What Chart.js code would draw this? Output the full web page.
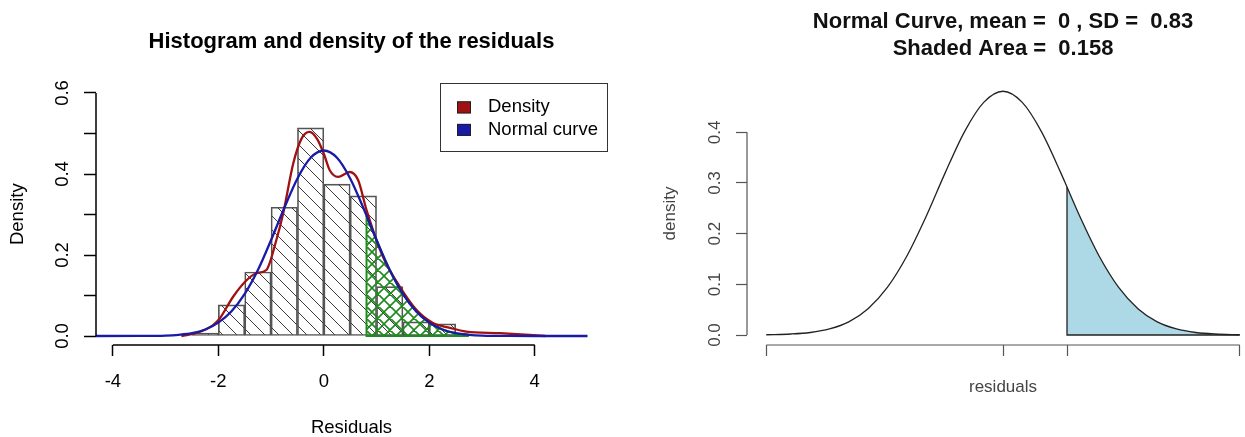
<!DOCTYPE html>
<html>
<head>
<meta charset="utf-8">
<script src="https://cdn.jsdelivr.net/npm/chart.js@4.4.1/dist/chart.umd.min.js"></script>
<style>
  html, body { margin: 0; padding: 0; background: #fff; width: 1245px; height: 437px; overflow: hidden; }
  canvas { position: absolute; top: 0; }
  #chartResiduals { left: 0; }
  #chartNormal { left: 625px; }
</style>
</head>
<body>
<canvas id="chartResiduals" width="620" height="437"></canvas>
<canvas id="chartNormal" width="640" height="437"></canvas>
<script>
/* Histograma de residuos */
const binMids = [-2.25, -1.75, -1.25, -0.75, -0.25, 0.25, 0.75, 1.25, 1.75, 2.25];
const binHeights = [0.007, 0.077, 0.158, 0.318, 0.514, 0.375, 0.346, 0.122, 0.035, 0.030];

/* Densidad (kernel) */
const densX = [-2.7, -2.4, -2.1, -1.97, -1.72, -1.47, -1.28, -1.09, -0.9, -0.77, -0.58, -0.42, -0.27, -0.12, 0.0, 0.11, 0.27, 0.49, 0.65, 0.81, 1.12, 1.44, 1.76, 2.07, 2.39, 2.7, 3.34, 3.97, 4.2];
const densY = [0.0, 0.008, 0.027, 0.044, 0.097, 0.137, 0.155, 0.163, 0.237, 0.303, 0.426, 0.488, 0.504, 0.485, 0.45, 0.41, 0.393, 0.405, 0.385, 0.311, 0.196, 0.122, 0.064, 0.032, 0.020, 0.011, 0.007, 0.002, 0.0];

/* Curva normal */
const normX = [-4.32, -3.5, -3, -2.75, -2.5, -2.25, -2, -1.75, -1.5, -1.25, -1, -0.75, -0.5, -0.25, 0, 0.25, 0.5, 0.75, 1, 1.25, 1.5, 1.75, 2, 2.25, 2.5, 2.75, 3, 3.5, 4, 5];
const normY = [0, 0.0001, 0.001, 0.003, 0.007, 0.016, 0.033, 0.061, 0.104, 0.163, 0.237, 0.316, 0.389, 0.440, 0.458, 0.440, 0.389, 0.316, 0.237, 0.163, 0.104, 0.061, 0.033, 0.016, 0.007, 0.003, 0.001, 0.0001, 0, 0];

/* Area verde */
const shadeX = [0.81, 1, 1.25, 1.5, 1.75, 2, 2.25, 2.5, 2.75];
const shadeY = [0.297, 0.237, 0.163, 0.104, 0.061, 0.033, 0.016, 0.007, 0.003];

const resXTicks = [-4, -2, 0, 2, 4];
const resXLabels = ['-4', '-2', '0', '2', '4'];
const resYTicks = [0, 0.1, 0.2, 0.3, 0.4, 0.5, 0.6];
const resYLabels = ['0.0', '', '0.2', '', '0.4', '', '0.6'];

/* Curva normal, media 0, SD 0.83 */
const curveX = [-3.07, -2.75, -2.5, -2.25, -2, -1.75, -1.5, -1.25, -1, -0.75, -0.5, -0.25, 0, 0.25, 0.5, 0.75, 0.83, 1, 1.25, 1.5, 1.75, 2, 2.25, 2.5, 2.75, 3.07];
const curveY = [0.0005, 0.002, 0.005, 0.012, 0.026, 0.052, 0.094, 0.155, 0.233, 0.320, 0.401, 0.459, 0.481, 0.459, 0.401, 0.320, 0.292, 0.233, 0.155, 0.094, 0.052, 0.026, 0.012, 0.005, 0.002, 0.0005];
const tailX = [0.83, 1, 1.25, 1.5, 1.75, 2, 2.25, 2.5, 2.75, 3.07];
const tailY = [0.292, 0.233, 0.155, 0.094, 0.052, 0.026, 0.012, 0.005, 0.002, 0.0005];

const normXTicks = [-3.07, 0, 0.83, 3.07];
const normYTicks = [0, 0.1, 0.2, 0.3, 0.4];
const normYLabels = ['0.0', '0.1', '0.2', '0.3', '0.4'];

const FONT = "'Liberation Sans', Arial, Helvetica, sans-serif";
Chart.defaults.font.family = FONT;
Chart.defaults.animation = false;

const pts = (xs, ys) => xs.map((x, i) => ({ x: x, y: ys[i] }));

/* patron de rayas */
function hatch(ctx, color, dirs, size, width) {
  const c = document.createElement('canvas');
  c.width = size; c.height = size;
  const g = c.getContext('2d');
  g.strokeStyle = color;
  g.lineWidth = width;
  g.beginPath();
  dirs.forEach((d) => {
    for (let k = -1; k <= 1; k++) {
      if (d === '\\') { g.moveTo(0, k * size); g.lineTo(size, (k + 1) * size); }
      else { g.moveTo(0, (k + 1) * size); g.lineTo(size, k * size); }
    }
  });
  g.stroke();
  return ctx.createPattern(c, 'repeat');
}

/* ejes estilo R: la linea solo cubre los ticks, etiquetas y rotadas */
function rAxes(cfg) {
  return {
    id: 'rAxes',
    afterDraw(chart) {
      const { ctx, chartArea, scales } = chart;
      const x = scales.x, y = scales.y;
      ctx.save();
      ctx.strokeStyle = cfg.color;
      ctx.lineWidth = cfg.lineWidth;
      ctx.beginPath();
      ctx.moveTo(chartArea.left, y.getPixelForValue(cfg.yTicks[cfg.yTicks.length - 1]));
      ctx.lineTo(chartArea.left, y.getPixelForValue(cfg.yTicks[0]));
      ctx.moveTo(x.getPixelForValue(cfg.xTicks[0]), chartArea.bottom);
      ctx.lineTo(x.getPixelForValue(cfg.xTicks[cfg.xTicks.length - 1]), chartArea.bottom);
      ctx.stroke();

      ctx.fillStyle = cfg.textColor;
      ctx.font = cfg.fontSize + 'px ' + FONT;
      ctx.textAlign = 'center';
      ctx.textBaseline = 'middle';
      cfg.yLabels.forEach((lab, i) => {
        if (!lab) return;
        ctx.save();
        ctx.translate(chartArea.left - cfg.labelOffset, y.getPixelForValue(cfg.yTicks[i]));
        ctx.rotate(-Math.PI / 2);
        ctx.fillText(lab, 0, 0);
        ctx.restore();
      });

      if (cfg.legend) {
        const items = chart.data.datasets.filter((d) => d.inLegend);
        const w = 167, h = 68;
        const left = chartArea.right - w, top = chartArea.top;
        ctx.strokeStyle = '#333';
        ctx.lineWidth = 1;
        ctx.strokeRect(Math.round(left) + 0.5, Math.round(top) + 0.5, w, h);
        ctx.textAlign = 'left';
        items.forEach((it, i) => {
          const cy = top + 24 + i * 22.5;
          ctx.fillStyle = it.borderColor;
          ctx.fillRect(left + 17, cy - 6, 14, 12);
          ctx.strokeStyle = '#222';
          ctx.strokeRect(left + 17.5, cy - 5.5, 13, 11);
          ctx.fillStyle = '#000';
          ctx.fillText(it.label, left + 48, cy);
        });
      }
      ctx.restore();
    },
  };
}

/* Grafico izquierdo */
const ctxRes = document.getElementById('chartResiduals').getContext('2d');
new Chart(ctxRes, {
  type: 'line',
  plugins: [rAxes({
    color: '#000', lineWidth: 1.5, textColor: '#000', fontSize: 18.5, labelOffset: 33,
    xTicks: resXTicks, yTicks: resYTicks, yLabels: resYLabels, legend: true,
  })],
  data: {
    datasets: [
      {
        label: 'Density', inLegend: true,
        data: pts(densX, densY),
        borderColor: '#a01212', borderWidth: 2.3,
        pointRadius: 0, cubicInterpolationMode: 'monotone', fill: false, order: 2,
      },
      {
        label: 'Normal curve', inLegend: true,
        data: pts(normX, normY),
        borderColor: '#1a1aa8', borderWidth: 2.3,
        pointRadius: 0, cubicInterpolationMode: 'monotone', fill: false, order: 1,
      },
      {
        label: 'shade',
        data: pts(shadeX, shadeY),
        borderColor: '#1f8a1f', borderWidth: 2,
        backgroundColor: hatch(ctxRes, '#1f8a1f', ['\\', '/'], 12, 1.6),
        pointRadius: 0, cubicInterpolationMode: 'monotone', fill: 'origin', order: 3,
      },
      {
        label: 'shadeEdge',
        data: [{ x: shadeX[0], y: shadeY[0] }, { x: shadeX[0], y: 0 }, { x: shadeX[shadeX.length - 1], y: 0 }],
        borderColor: '#1f8a1f', borderWidth: 2,
        pointRadius: 0, tension: 0, fill: false, order: 3,
      },
      {
        type: 'bar', label: 'Histogram',
        data: pts(binMids, binHeights),
        backgroundColor: hatch(ctxRes, '#3a3a3a', ['\\'], 14, 1),
        borderColor: '#555', borderWidth: 1, borderSkipped: false,
        barPercentage: 1, categoryPercentage: 1, order: 4,
      },
    ],
  },
  options: {
    responsive: false,
    layout: { padding: { left: 0, right: 13, top: 0, bottom: 0 } },
    plugins: {
      legend: { display: false },
      tooltip: { enabled: false },
      title: {
        display: true, fullSize: false,
        text: 'Histogram and density of the residuals',
        color: '#000',
        font: { size: 22, weight: 'bold', lineHeight: 1.2 },
        padding: { top: 29, bottom: 28 },
      },
    },
    scales: {
      x: {
        type: 'linear', min: -4.32, max: 5.37, offset: false,
        afterBuildTicks: (s) => { s.ticks = resXTicks.map((v) => ({ value: v })); },
        afterFit: (s) => { s.height = 92; },
        ticks: {
          color: '#000', font: { size: 18.5 }, padding: 15, maxRotation: 0, autoSkip: false,
          callback: (v) => resXLabels[resXTicks.indexOf(v)],
        },
        grid: { drawOnChartArea: false, offset: false, tickLength: 11, tickWidth: 1.5, tickColor: '#000' },
        border: { display: false },
        title: { display: true, text: 'Residuals', color: '#000', font: { size: 18.5, lineHeight: 1 }, padding: { top: 0, bottom: 0 } },
      },
      y: {
        type: 'linear', min: -0.0222, max: 0.6237,
        afterBuildTicks: (s) => { s.ticks = resYTicks.map((v) => ({ value: v })); },
        afterFit: (s) => { s.width = 96; },
        ticks: { display: false },
        grid: { drawOnChartArea: false, tickLength: 12, tickWidth: 1.5, tickColor: '#000' },
        border: { display: false },
        title: { display: true, text: 'Density', color: '#000', font: { size: 18.5, lineHeight: 1 }, padding: { top: 8.7, bottom: 0 } },
      },
    },
  },
});

/* Grafico derecho */
const ctxNorm = document.getElementById('chartNormal').getContext('2d');
new Chart(ctxNorm, {
  type: 'line',
  plugins: [rAxes({
    color: '#555', lineWidth: 1.2, textColor: '#444', fontSize: 17, labelOffset: 32,
    xTicks: normXTicks, yTicks: normYTicks, yLabels: normYLabels, legend: false,
  })],
  data: {
    datasets: [
      {
        label: 'curve',
        data: pts(curveX, curveY),
        borderColor: '#222', borderWidth: 1.3,
        pointRadius: 0, cubicInterpolationMode: 'monotone', fill: false, order: 1,
      },
      {
        label: 'tail',
        data: pts(tailX, tailY),
        borderWidth: 0, borderColor: 'rgba(0,0,0,0)',
        backgroundColor: '#add8e6',
        pointRadius: 0, cubicInterpolationMode: 'monotone', fill: 'origin', order: 3,
      },
      {
        label: 'tailEdge',
        data: [{ x: tailX[0], y: tailY[0] }, { x: tailX[0], y: 0 }, { x: tailX[tailX.length - 1], y: 0 }],
        borderColor: '#222', borderWidth: 1.3,
        pointRadius: 0, tension: 0, fill: false, order: 2,
      },
    ],
  },
  options: {
    responsive: false,
    layout: { padding: { left: 0, right: 6, top: 0, bottom: 0 } },
    plugins: {
      legend: { display: false },
      tooltip: { enabled: false },
      title: {
        display: true, fullSize: false,
        text: ['Normal Curve, mean =  0 , SD =  0.83', 'Shaded Area =  0.158'],
        color: '#111',
        font: { size: 22, weight: 'bold', lineHeight: '27px' },
        padding: { top: 8, bottom: 20 },
      },
    },
    scales: {
      x: {
        type: 'linear', min: -3.32, max: 3.32,
        afterBuildTicks: (s) => { s.ticks = normXTicks.map((v) => ({ value: v })); },
        afterFit: (s) => { s.height = 92; },
        ticks: { display: false },
        grid: { drawOnChartArea: false, tickLength: 11, tickWidth: 1.2, tickColor: '#555' },
        border: { display: false },
        title: { display: true, text: 'residuals', color: '#444', font: { size: 17, lineHeight: 1 }, padding: { top: 0, bottom: 41.5 } },
      },
      y: {
        type: 'linear', min: -0.0197, max: 0.4993,
        afterBuildTicks: (s) => { s.ticks = normYTicks.map((v) => ({ value: v })); },
        afterFit: (s) => { s.width = 122; },
        ticks: { display: false },
        grid: { drawOnChartArea: false, tickLength: 11, tickWidth: 1.2, tickColor: '#555' },
        border: { display: false },
        title: { display: true, text: 'density', color: '#444', font: { size: 17, lineHeight: 1 }, padding: { top: 36.5, bottom: 0 } },
      },
    },
  },
});
</script>
</body>
</html>
